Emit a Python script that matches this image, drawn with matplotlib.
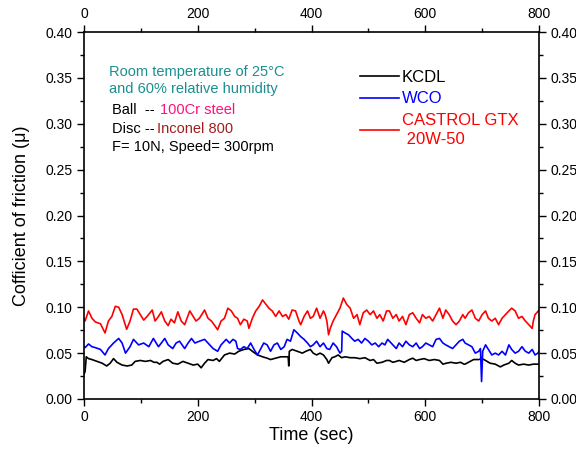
import matplotlib
matplotlib.use('Agg')
import matplotlib.pyplot as plt
from matplotlib.ticker import MultipleLocator

plt.rcParams['font.family'] = ['Liberation Sans', 'DejaVu Sans']

# values (time in sec, friction coefficient)
kcdl_t = [0, 2, 4, 8, 14, 23, 32, 40, 46, 52, 58, 67, 76, 84, 90, 99, 108, 117, 123, 128, 133,
          139, 148, 156, 165, 174, 183, 192, 200, 206, 212, 218, 227, 233, 238, 247, 256, 265,
          272, 281, 290, 296, 305, 314, 322, 328, 337, 346, 355, 359, 360, 361, 366, 375, 384, 390, 398,
          403, 409, 415, 421, 427, 430, 436, 441, 447, 453, 459, 468, 476, 485, 494, 503, 509, 515, 524, 532,
          537, 543, 549, 554, 563, 572, 578, 584, 590, 598, 607, 616, 625, 631, 637, 645, 654, 662, 668,
          670, 676, 685, 694, 700, 706, 714, 723, 732, 738, 747, 752, 758, 764, 773, 782, 790, 800]
kcdl_mu = [0.027, 0.030, 0.046, 0.044, 0.043, 0.041, 0.039, 0.036, 0.039, 0.044, 0.040, 0.037, 0.036, 0.037,
           0.041, 0.042, 0.041, 0.042, 0.040, 0.040, 0.038,
           0.041, 0.043, 0.039, 0.038, 0.041, 0.039, 0.037, 0.038, 0.034, 0.039, 0.043, 0.042, 0.044, 0.041,
           0.048, 0.050, 0.049,
           0.052, 0.054, 0.055, 0.052, 0.048, 0.046, 0.0445, 0.043, 0.0445, 0.046, 0.046, 0.046, 0.036, 0.052,
           0.054, 0.052, 0.050, 0.052, 0.054,
           0.050, 0.048, 0.050, 0.048, 0.043, 0.039, 0.045, 0.046, 0.048, 0.045, 0.046, 0.045, 0.045, 0.044,
           0.045, 0.042, 0.043, 0.039, 0.040, 0.042,
           0.042, 0.040, 0.041, 0.042, 0.040, 0.043, 0.0445, 0.042, 0.043, 0.044, 0.042, 0.043, 0.042, 0.038,
           0.039, 0.040, 0.039, 0.040, 0.038,
           0.038, 0.040, 0.043, 0.043, 0.044, 0.042, 0.039, 0.038, 0.035, 0.037, 0.039, 0.042, 0.039, 0.037,
           0.038, 0.037, 0.038, 0.038]

wco_t = [0, 2, 8, 14, 20, 29, 37, 43, 52, 61, 67, 73, 81, 87, 96, 105, 114, 122, 131,
         136, 142, 148, 156, 162, 168, 177, 183, 189, 195, 203, 212, 221, 227, 235, 241, 250, 256, 262, 267,
         270, 275, 281, 287, 293, 299, 305, 310, 316, 322, 328, 334, 340, 346, 352, 357, 363, 369, 375, 381,
         387, 393, 398,
         403, 409, 415, 421, 427, 432, 438, 444, 450, 453, 454, 459, 465, 471, 476, 482, 488, 494, 500, 506,
         512, 518, 524, 529, 534,
         537, 543, 549, 554, 560, 566, 572, 578, 584, 590, 595, 601, 607, 613, 619, 625, 631, 636, 642, 648,
         654, 660, 666,
         670, 676, 682, 688, 694, 697, 699, 701, 706, 711, 717, 723, 729, 735, 741, 747, 752, 758, 764, 770,
         776, 782, 788, 793, 798, 800]
wco_mu = [0.057, 0.056, 0.060, 0.057, 0.056, 0.054, 0.048, 0.055, 0.061, 0.066, 0.061, 0.050, 0.057, 0.065,
          0.059, 0.061, 0.057, 0.066, 0.057,
          0.061, 0.066, 0.059, 0.055, 0.061, 0.063, 0.055, 0.061, 0.066, 0.061, 0.063, 0.065, 0.059, 0.055,
          0.052, 0.059, 0.065, 0.061, 0.065, 0.063,
          0.055, 0.054, 0.057, 0.055, 0.061, 0.054, 0.048, 0.054, 0.061, 0.059, 0.052, 0.059, 0.061, 0.054,
          0.057, 0.065, 0.063, 0.0755, 0.072, 0.068, 0.065, 0.061, 0.057,
          0.059, 0.063, 0.057, 0.061, 0.055, 0.054, 0.061, 0.057, 0.050, 0.052, 0.074, 0.072, 0.070, 0.066,
          0.063, 0.065, 0.061, 0.066, 0.063, 0.059, 0.061, 0.057, 0.061, 0.059, 0.065,
          0.063, 0.059, 0.055, 0.061, 0.057, 0.063, 0.059, 0.057, 0.061, 0.055, 0.057, 0.061, 0.059, 0.057,
          0.065, 0.066, 0.061, 0.059, 0.057, 0.055, 0.059, 0.063, 0.065,
          0.061, 0.059, 0.057, 0.050, 0.052, 0.055, 0.019, 0.052, 0.059, 0.054, 0.048, 0.050, 0.048, 0.052,
          0.048, 0.059, 0.054, 0.050, 0.052, 0.057, 0.052, 0.050, 0.054, 0.048, 0.050, 0.052]

castrol_t = [0, 2, 8, 14, 20, 29, 37, 43, 49, 55, 61, 67, 75, 81, 87, 93, 99, 105, 111, 120, 125, 131,
             136, 142, 148, 153, 159, 165, 171, 177, 186, 192, 197, 203, 212, 218, 224, 230, 235, 241, 247,
             253, 259, 265,
             270, 275, 281, 287, 290, 296, 302, 308, 314, 320, 325, 331, 337, 343, 349, 355, 360, 366, 372,
             378, 381, 387, 393, 398,
             403, 409, 415, 421, 424, 427, 430, 433, 438, 444, 450, 456, 462, 468, 474, 480, 485, 491, 497,
             503, 509, 515, 520, 526, 532,
             537, 543, 549, 554, 560, 566, 572, 578, 584, 590, 595, 601, 607, 613, 619, 625, 631, 636, 642,
             648, 654, 660, 666,
             670, 676, 682, 688, 694, 700, 706, 711, 717, 723, 729, 735, 741, 747, 752, 758, 764, 770, 776,
             782, 788, 790, 793, 796, 800]
castrol_mu = [0.088, 0.085, 0.096, 0.088, 0.084, 0.082, 0.072, 0.085, 0.090, 0.101, 0.100, 0.092, 0.076,
              0.085, 0.098, 0.098, 0.092, 0.086, 0.090, 0.097, 0.085, 0.090,
              0.095, 0.085, 0.080, 0.087, 0.083, 0.095, 0.085, 0.081, 0.096, 0.090, 0.085, 0.088, 0.097,
              0.088, 0.085, 0.080, 0.0755, 0.085, 0.088, 0.099, 0.096, 0.090,
              0.088, 0.081, 0.087, 0.085, 0.077, 0.088, 0.096, 0.101, 0.108, 0.103, 0.099, 0.096, 0.090,
              0.096, 0.090, 0.092, 0.087, 0.097, 0.096, 0.085, 0.081, 0.090, 0.096, 0.088,
              0.090, 0.099, 0.088, 0.096, 0.092, 0.085, 0.070, 0.077, 0.085, 0.092, 0.099, 0.110, 0.103,
              0.099, 0.088, 0.092, 0.081, 0.094, 0.097, 0.092, 0.096, 0.088, 0.092, 0.085, 0.096,
              0.096, 0.088, 0.092, 0.085, 0.090, 0.081, 0.092, 0.094, 0.088, 0.083, 0.092, 0.088, 0.090,
              0.085, 0.092, 0.099, 0.088, 0.097, 0.092, 0.085, 0.081, 0.085, 0.092,
              0.088, 0.094, 0.097, 0.088, 0.085, 0.092, 0.096, 0.088, 0.085, 0.088, 0.081, 0.088, 0.092,
              0.096, 0.099, 0.096, 0.088, 0.090, 0.085, 0.081, 0.077, 0.085, 0.092, 0.094, 0.097]

fig = plt.figure(figsize=(5.76, 4.51), dpi=100)
ax = fig.add_axes([0.1458, 0.1153, 0.79, 0.8137])

ax.plot(kcdl_t, kcdl_mu, color='black', lw=1.2, label='KCDL')
ax.plot(wco_t, wco_mu, color='#0000ff', lw=1.2, label='WCO')
ax.plot(castrol_t, castrol_mu, color='#ff0000', lw=1.2, label='CASTROL GTX\n 20W-50')

ax.set_xlim(0, 800)
ax.set_ylim(0, 0.40)
ax.xaxis.set_major_locator(MultipleLocator(200))
ax.xaxis.set_minor_locator(MultipleLocator(100))
ax.yaxis.set_major_locator(MultipleLocator(0.05))
ax.yaxis.set_minor_locator(MultipleLocator(0.025))
ax.yaxis.set_major_formatter(matplotlib.ticker.FormatStrFormatter('%.2f'))
ax.tick_params(which='both', direction='out', top=True, right=True,
               labeltop=True, labelright=True, labelsize=10, width=1)
ax.tick_params(which='major', length=5, pad=3)
ax.tick_params(which='minor', length=3)
for s in ax.spines.values():
    s.set_linewidth(1.2)

ax.set_xlabel('Time (sec)', fontsize=13, labelpad=2)
ax.set_ylabel('Cofficient of friction (\u03bc)', fontsize=13, labelpad=11)

teal = '#1a8f8f'
fs = 10.5
ax.text(0.055, 0.891, 'Room temperature of 25\u00b0C', color=teal, fontsize=fs,
        transform=ax.transAxes, va='center')
ax.text(0.055, 0.845, 'and 60% relative humidity', color=teal, fontsize=fs,
        transform=ax.transAxes, va='center')
ax.text(0.0615, 0.787, 'Ball  --', color='black', fontsize=fs, transform=ax.transAxes, va='center')
ax.text(0.167, 0.787, '100Cr steel', color='#ff0f7f', fontsize=fs, transform=ax.transAxes, va='center')
ax.text(0.0615, 0.736, 'Disc --', color='black', fontsize=fs, transform=ax.transAxes, va='center')
ax.text(0.160, 0.736, 'Inconel 800', color='#a11d1d', fontsize=fs, transform=ax.transAxes, va='center')
ax.text(0.0615, 0.687, 'F= 10N, Speed= 300rpm', color='black', fontsize=fs,
        transform=ax.transAxes, va='center')

leg = ax.legend(loc='upper left', bbox_to_anchor=(0.574, 0.937), frameon=False, fontsize=12,
                handlelength=2.3, handletextpad=0.2, labelspacing=0.38, labelcolor='linecolor')
leg.get_texts()[2].set_linespacing(1.35)

fig.savefig('out.png', dpi=100)
